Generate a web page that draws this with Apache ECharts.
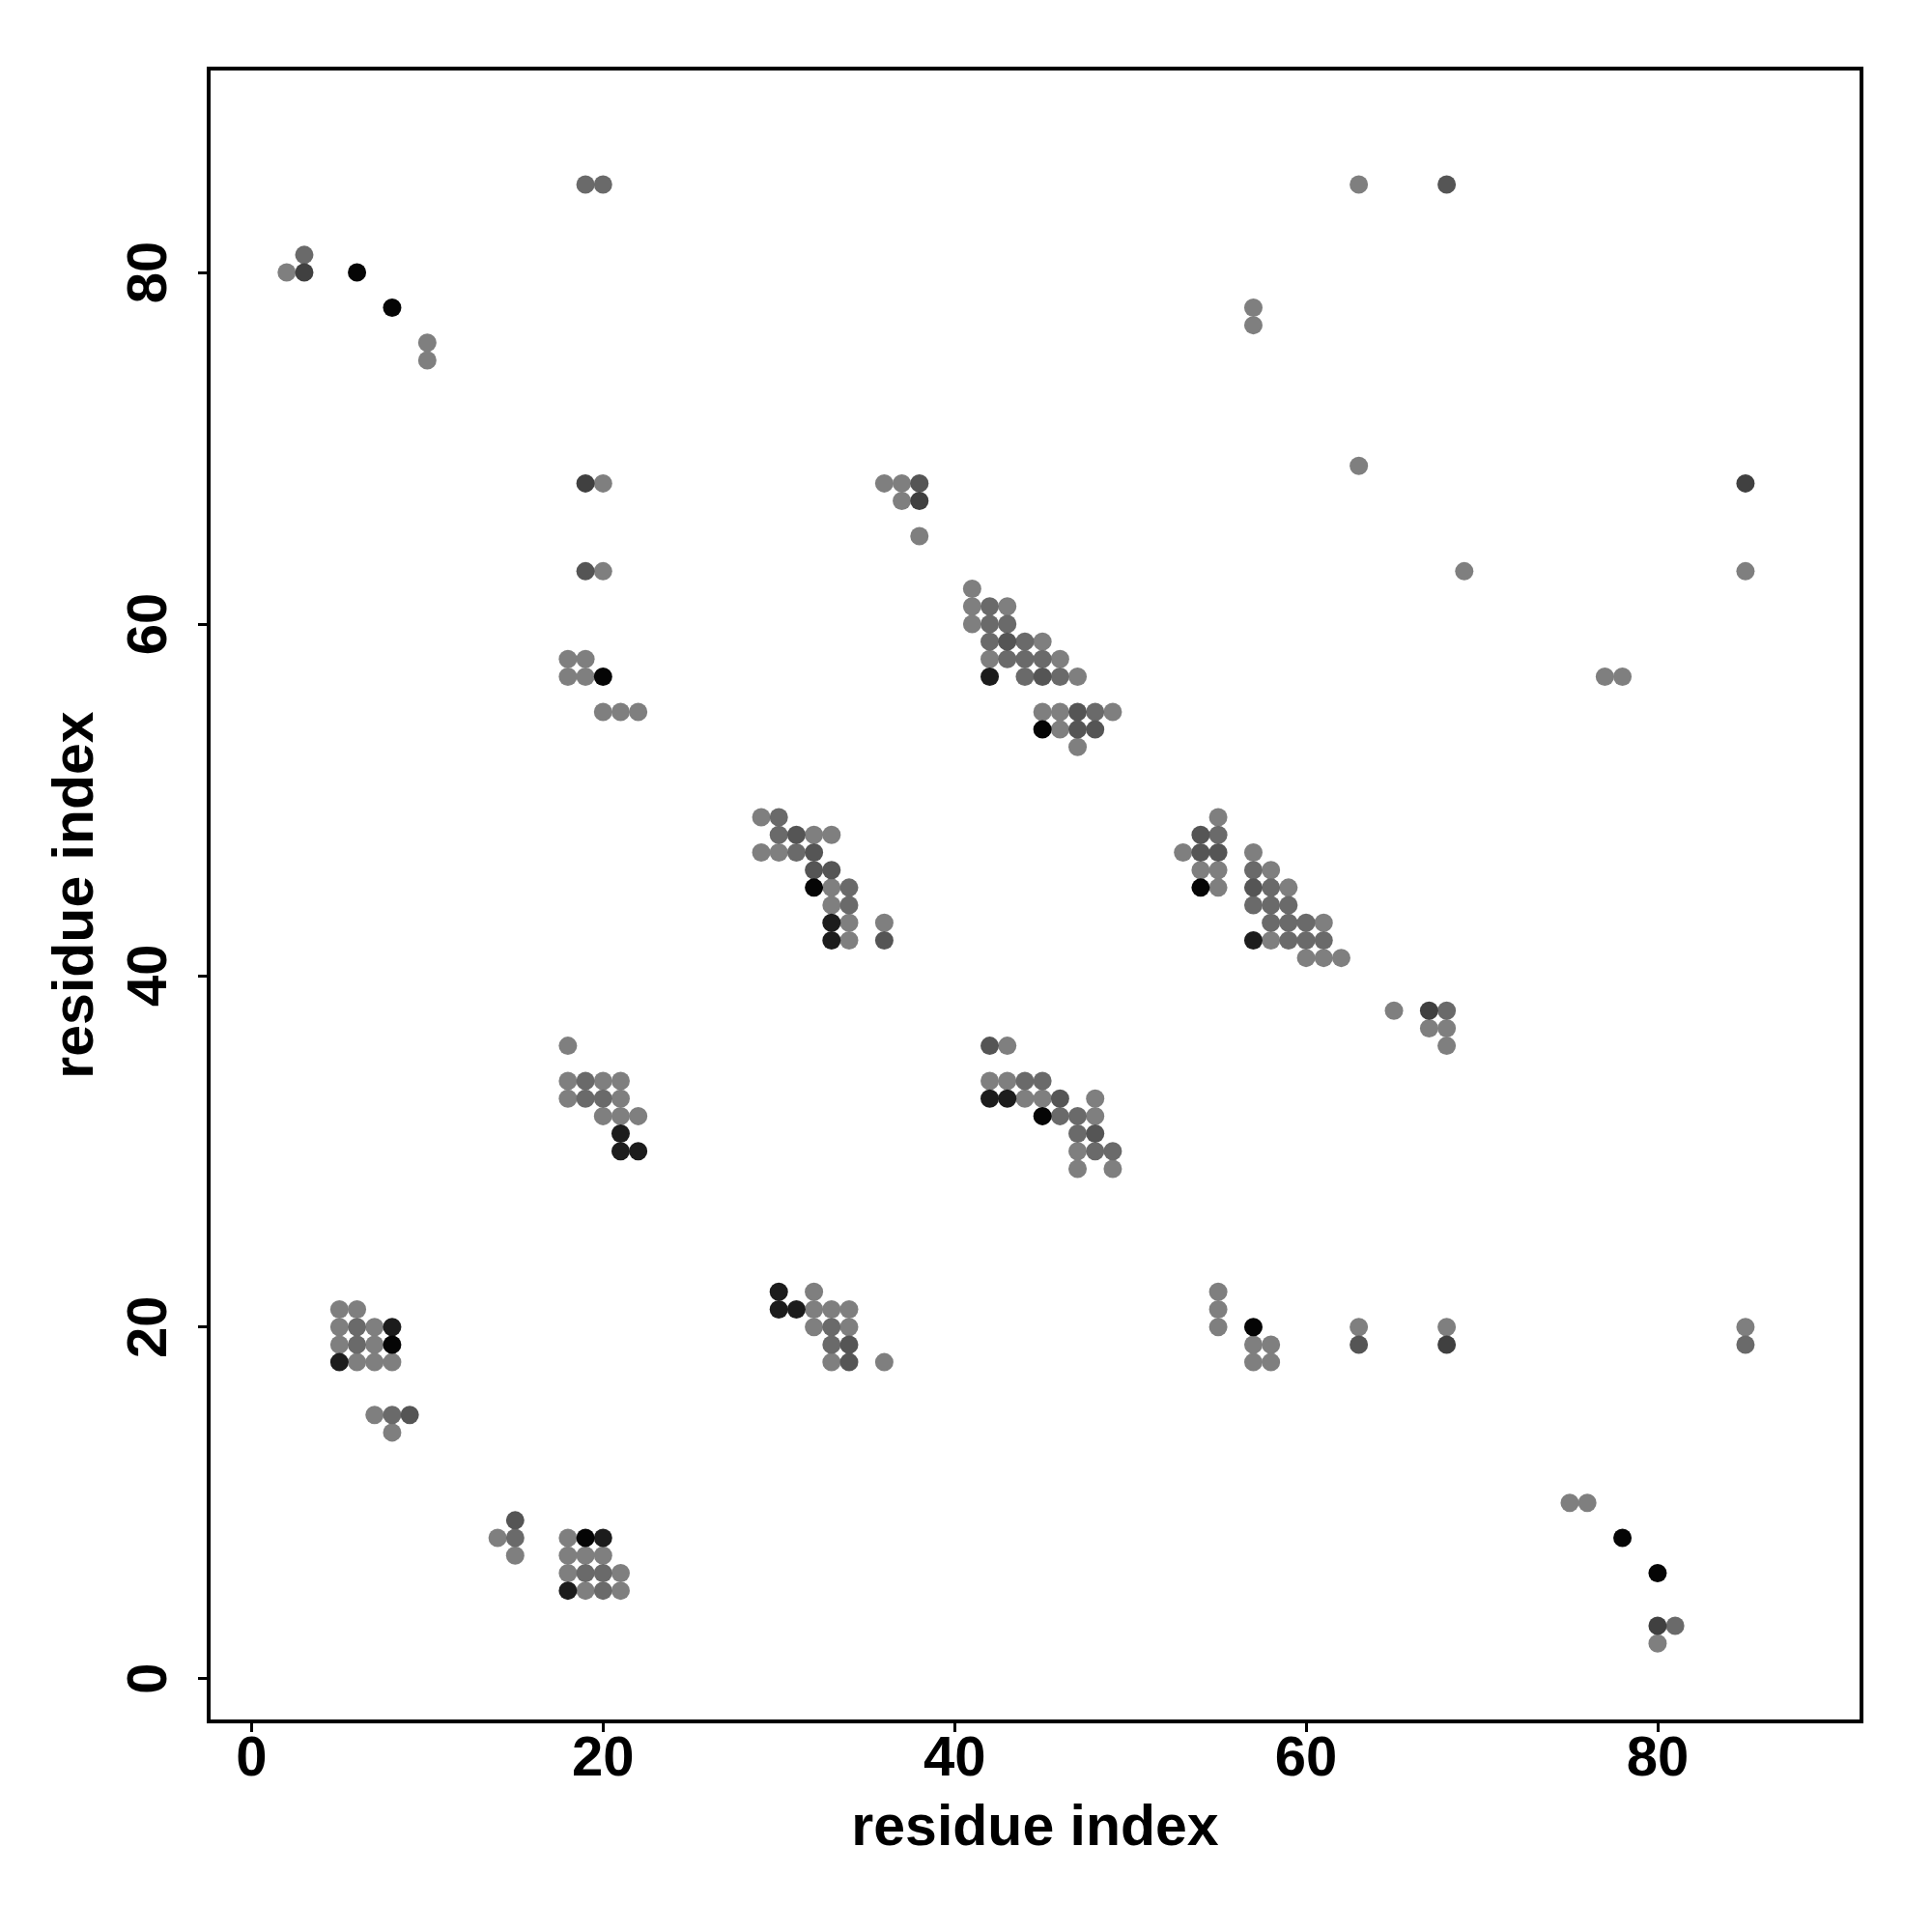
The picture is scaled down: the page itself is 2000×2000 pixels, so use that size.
<!DOCTYPE html>
<html><head><meta charset="utf-8">
<script src="https://cdn.jsdelivr.net/npm/echarts@6/dist/echarts.min.js"></script>
<style>html,body{margin:0;padding:0;background:#fff}#c{width:2000px;height:2000px}</style>
</head><body><div id="c"></div>
<script>
// contact points grouped by shade (x = residue index, y = residue index)
const lightPts = [[2,80],[10,76],[10,75],
[20,68],[20,63],[18,58],[19,58],[18,57],[19,57],[20,55],[21,55],[22,55],
[29,49],[32,48],[33,48],[29,47],[30,47],[33,45],[33,44],[34,43],[36,43],[34,42],
[36,68],[37,68],[37,67],[38,65],
[41,62],[41,61],[43,61],[41,60],[45,59],[42,58],[46,58],[47,57],[45,55],[46,55],[49,55],[46,54],[47,53],
[55,49],[53,47],[57,47],[54,46],[55,46],[58,46],[55,45],[59,45],[61,43],[58,42],[60,41],[61,41],[62,41],
[65,38],[67,37],[68,37],[68,36],
[18,36],[18,34],[20,34],[21,34],[18,33],[21,33],[20,32],[21,32],[22,32],
[43,36],[42,34],[43,34],[44,33],[45,33],[48,33],[48,32],[47,30],[47,29],[49,29],
[5,21],[6,21],[5,20],[7,20],[5,19],[7,19],[6,18],[7,18],[8,18],[7,15],[8,14],
[32,22],[32,21],[33,21],[34,21],[32,20],[34,20],[33,18],[36,18],
[14,8],[18,8],[15,7],[18,7],[19,7],[20,7],[18,6],[21,6],[19,5],[21,5],
[63,85],[57,78],[57,77],[63,69],[85,63],[69,63],[77,57],[78,57],
[55,22],[55,21],[55,20],[57,19],[58,19],[57,18],[58,18],
[63,20],[68,20],[85,20],[75,10],[76,10],[80,2]];
const mediumPts = [[3,81],[19,85],[20,85],
[30,49],[30,48],[31,47],[34,45],[34,44],
[42,61],[42,60],[43,60],[42,59],[44,59],[43,58],[44,58],[45,58],[44,57],[46,57],[48,55],
[55,48],[57,46],[58,45],[57,44],[58,44],[59,44],[58,43],[59,43],[60,43],[59,42],[60,42],[61,42],
[68,38],
[19,34],[19,33],[20,33],
[44,34],[45,34],[46,32],[47,32],[47,31],[48,30],[49,30],
[6,20],[6,19],[8,15],
[33,20],[33,19],
[15,8],[19,6],[20,6],[20,5],
[81,3],[85,19]];
const mediumDarkPts = [[19,63],[31,48],[32,47],[32,46],[33,46],[36,42],[38,68],
[43,59],[45,57],[47,55],[47,54],[48,54],
[54,48],[54,47],[55,47],[57,45],
[42,36],[46,33],[48,31],
[9,15],[34,19],[34,18],[15,9],
[63,19],[68,85]];
const darkPts = [[3,80],[19,68],[38,67],[67,38],[80,3],[68,19],[85,68]];
const veryDarkPts = [[33,43],[33,42],[42,57],[57,42],[21,31],[21,30],[22,30],[42,33],[43,33],
[8,20],[5,18],[30,22],[30,21],[31,21],[20,8],[18,5]];
const blackPts = [[6,80],[8,78],[20,57],[32,45],[45,54],[54,45],[45,32],[8,19],[19,8],[57,20],[78,8],[80,6]];

const tickValues = [0,20,40,60,80];
const axisTitle = 'residue index';

const groups = [
  [lightPts,'#7f7f7f'],[mediumPts,'#6a6a6a'],[mediumDarkPts,'#555555'],
  [darkPts,'#404040'],[veryDarkPts,'#1c1c1c'],[blackPts,'#050505']
];
const font = 'Liberation Sans';
const chart = echarts.init(document.getElementById('c'), null, {renderer:'canvas'});
const axisCommon = {
  type:'value', min:-2.44, max:91.6, splitLine:{show:false},
  axisLine:{show:false, onZero:false},
  axisTick:{show:true, length:11, lineStyle:{color:'#000', width:3}, customValues:tickValues},
  axisLabel:{fontFamily:font, fontWeight:'bold', fontSize:58, color:'#000', customValues:tickValues},
  name: axisTitle, nameLocation:'middle',
  nameTextStyle:{fontFamily:font, fontWeight:'bold', fontSize:59, color:'#000'}
};
chart.setOption({
  animation:false,
  backgroundColor:'#fff',
  grid:{left:216, right:73, top:71, bottom:218, show:true, borderColor:'#000', borderWidth:4, backgroundColor:'transparent'},
  xAxis: Object.assign({}, axisCommon, {
    axisLabel: Object.assign({}, axisCommon.axisLabel, {margin:11}),
    nameGap: 82
  }),
  yAxis: Object.assign({}, axisCommon, {
    axisLabel: Object.assign({}, axisCommon.axisLabel, {margin:31, rotate:90}),
    nameGap: 107
  }),
  series: groups.map(([pts,col]) => ({
    type:'scatter', data:pts, symbol:'circle', symbolSize:19,
    itemStyle:{color:col, opacity:1}, silent:true
  }))
});
</script></body></html>
